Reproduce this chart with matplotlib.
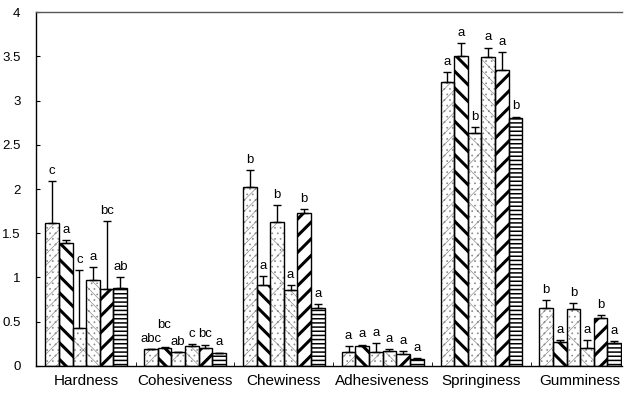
import numpy as np
import matplotlib.pyplot as plt

plt.rcParams['font.family'] = ['Liberation Sans', 'DejaVu Sans']

# texture profile attributes, six samples each
attributes = ['Hardness', 'Cohesiveness', 'Chewiness', 'Adhesiveness', 'Springiness', 'Gumminess']

means = np.array([
    [1.62, 1.39, 0.43, 0.97, 0.87, 0.88],
    [0.19, 0.20, 0.16, 0.23, 0.20, 0.15],
    [2.02, 0.92, 1.63, 0.86, 1.73, 0.66],
    [0.16, 0.23, 0.16, 0.17, 0.13, 0.08],
    [3.21, 3.50, 2.63, 3.49, 3.35, 2.80],
    [0.65, 0.27, 0.64, 0.20, 0.54, 0.26],
])
sds = np.array([
    [0.47, 0.03, 0.65, 0.15, 0.77, 0.12],
    [0.00, 0.01, 0.00, 0.02, 0.04, 0.00],
    [0.19, 0.10, 0.19, 0.05, 0.04, 0.04],
    [0.06, 0.01, 0.10, 0.02, 0.04, 0.01],
    [0.11, 0.15, 0.07, 0.11, 0.20, 0.02],
    [0.09, 0.02, 0.07, 0.09, 0.03, 0.02],
])
letters = [
    ['c', 'a', 'c', 'a', 'bc', 'ab'],
    ['abc', 'bc', 'ab', 'c', 'bc', 'a'],
    ['b', 'a', 'b', 'a', 'b', 'a'],
    ['a', 'a', 'a', 'a', 'a', 'a'],
    ['a', 'a', 'b', 'a', 'a', 'b'],
    ['b', 'a', 'b', 'a', 'b', 'a'],
]

# (hatch, hatch colour, hatch linewidth) for each sample
styles = [
    ('...///', '0.55', 0.5),
    ('\\\\', 'black', 2.2),
    ('...x', '0.55', 0.5),
    ('...\\\\\\', '0.55', 0.5),
    ('//', 'black', 2.2),
    ('----', 'black', 1.1),
]

fig = plt.figure(figsize=(6.28, 3.93), dpi=100)
ax = fig.add_axes([0.057, 0.069, 0.933, 0.9])

n_groups, n_bars = means.shape
width = 0.138
x = np.arange(n_groups)

for j in range(n_bars):
    pos = x + (j - (n_bars - 1) / 2) * width
    hatch, hcol, hlw = styles[j]
    layer = ax.bar(pos, means[:, j], width, color='white', edgecolor=hcol,
                   linewidth=0, hatch=hatch, zorder=2)
    for p in layer:
        if hasattr(p, 'set_hatch_linewidth'):
            p.set_hatch_linewidth(hlw)
    ax.bar(pos, means[:, j], width, fill=False, edgecolor='black',
           linewidth=1.0, zorder=3)
    ax.errorbar(pos, means[:, j], yerr=[np.zeros(n_groups), sds[:, j]],
                fmt='none', ecolor='black', elinewidth=1, capsize=3,
                capthick=1, zorder=4)
    for i in range(n_groups):
        lift = 3
        if letters[i][j] == 'bc' and i == 1 and j == 1:
            lift = 12
        ax.annotate(letters[i][j], (pos[i], means[i, j] + sds[i, j]),
                    xytext=(0, lift), textcoords='offset points',
                    ha='center', va='bottom', fontsize=9.5)

ax.set_xlim(-0.51, 5.42)
ax.set_ylim(0, 4)
ax.set_yticks(np.arange(0, 4.01, 0.5))
ax.set_yticklabels(['0', '0.5', '1', '1.5', '2', '2.5', '3', '3.5', '4'])
ax.tick_params(axis='y', direction='in', length=3, pad=11, labelsize=9.5)
ax.set_xticks(x)
ax.set_xticklabels(attributes, fontsize=11)
ax.set_xticks(x[:-1] + 0.5, minor=True)
ax.tick_params(axis='x', which='major', length=0, pad=6)
ax.tick_params(axis='x', which='minor', direction='in', length=3)

ax.spines['right'].set_visible(False)
ax.spines['top'].set_color('0.35')
for s in ['left', 'bottom', 'top']:
    ax.spines[s].set_linewidth(1.0)

fig.savefig('out.png', dpi=100)
